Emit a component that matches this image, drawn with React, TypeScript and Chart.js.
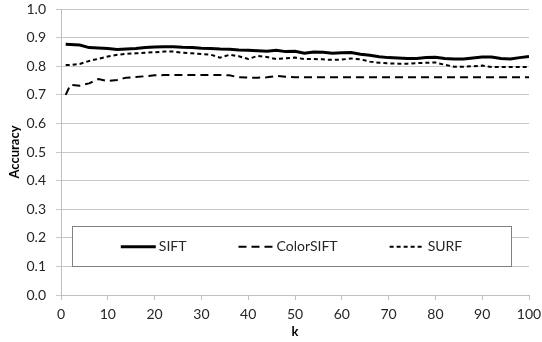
import React, { useEffect, useRef } from "react";
import { Chart, registerables } from "chart.js";

Chart.register(...registerables);

const kValues = [1, 2, 4, 6, 8, 10, 12, 14, 16, 18, 20, 22, 24, 26, 28, 30, 32, 34, 36, 38, 40, 42, 44, 46, 48, 50, 52, 54, 56, 58, 60, 62, 64, 66, 68, 70, 72, 74, 76, 78, 80, 82, 84, 86, 88, 90, 92, 94, 96, 98, 100];

const sift = [0.877, 0.876, 0.874, 0.865, 0.864, 0.862, 0.858, 0.86, 0.862, 0.865, 0.867, 0.868, 0.868, 0.866, 0.865, 0.863, 0.862, 0.86, 0.859, 0.857, 0.856, 0.854, 0.852, 0.856, 0.851, 0.852, 0.845, 0.85, 0.849, 0.845, 0.847, 0.848, 0.842, 0.838, 0.833, 0.83, 0.829, 0.827, 0.827, 0.83, 0.831, 0.827, 0.825, 0.825, 0.829, 0.832, 0.832, 0.827, 0.825, 0.83, 0.834];

const colorSift = [0.7, 0.735, 0.732, 0.74, 0.755, 0.748, 0.752, 0.76, 0.762, 0.765, 0.768, 0.769, 0.769, 0.769, 0.769, 0.769, 0.769, 0.769, 0.768, 0.761, 0.76, 0.76, 0.761, 0.766, 0.763, 0.761, 0.761, 0.761, 0.761, 0.761, 0.761, 0.761, 0.761, 0.761, 0.761, 0.761, 0.761, 0.761, 0.761, 0.761, 0.761, 0.761, 0.761, 0.761, 0.761, 0.761, 0.761, 0.761, 0.761, 0.761, 0.761];

const surf = [0.804, 0.804, 0.808, 0.818, 0.826, 0.834, 0.84, 0.843, 0.845, 0.847, 0.849, 0.851, 0.851, 0.847, 0.845, 0.843, 0.84, 0.83, 0.84, 0.835, 0.825, 0.836, 0.832, 0.825, 0.828, 0.83, 0.825, 0.825, 0.824, 0.822, 0.823, 0.827, 0.824, 0.816, 0.812, 0.81, 0.809, 0.809, 0.811, 0.812, 0.813, 0.805, 0.798, 0.798, 0.8, 0.802, 0.797, 0.797, 0.797, 0.797, 0.797];

const seriesNames = ["SIFT", "ColorSIFT", "SURF"];
const FONT = "Lato, 'Open Sans', sans-serif";
const TEXT = "#262626";

const boxLegend = {
  id: "boxLegend",
  afterDatasetsDraw(chart: any) {
    const { ctx, chartArea } = chart;
    const ys = chart.scales.y;
    const left = chartArea.left + 11;
    const right = chartArea.right - 18;
    const top = ys.getPixelForValue(0.241);
    const bottom = ys.getPixelForValue(0.1);
    ctx.save();
    ctx.fillStyle = "#ffffff";
    ctx.fillRect(left, top, right - left, bottom - top);
    ctx.strokeStyle = "#808080";
    ctx.lineWidth = 1;
    ctx.strokeRect(Math.round(left) + 0.5, Math.round(top) + 0.5, Math.round(right - left), Math.round(bottom - top));
    ctx.font = "14px " + FONT;
    ctx.textBaseline = "middle";
    const lineLen = 35;
    const gap = 3;
    const spacing = 52;
    const items = chart.data.datasets.map((d: any) => ({
      d,
      w: lineLen + gap + ctx.measureText(d.label).width,
    }));
    const total = items.reduce((s: number, it: any) => s + it.w, 0) + spacing * (items.length - 1);
    let x = (left + right) / 2 - total / 2;
    const cy = (top + bottom) / 2 + 0.5;
    items.forEach((it: any) => {
      ctx.strokeStyle = it.d.borderColor;
      ctx.lineWidth = it.d.borderWidth;
      ctx.setLineDash(it.d.borderDash || []);
      ctx.beginPath();
      ctx.moveTo(x, cy);
      ctx.lineTo(x + lineLen, cy);
      ctx.stroke();
      ctx.setLineDash([]);
      ctx.fillStyle = TEXT;
      ctx.textAlign = "left";
      ctx.fillText(it.d.label, x + lineLen + gap, cy);
      x += it.w + spacing;
    });
    ctx.restore();
  },
};

export default function App() {
  const ref = useRef<HTMLCanvasElement>(null);
  useEffect(() => {
    if (!ref.current) return;
    const mk = (arr: number[]) => kValues.map((k, i) => ({ x: k, y: arr[i] }));
    const chart = new Chart(ref.current, {
      type: "line",
      data: {
        datasets: [
          { label: seriesNames[0], data: mk(sift), borderColor: "#000000", borderWidth: 3, pointRadius: 0, tension: 0, fill: false },
          { label: seriesNames[1], data: mk(colorSift), borderColor: "#000000", borderWidth: 2, borderDash: [8, 5], pointRadius: 0, tension: 0, fill: false },
          { label: seriesNames[2], data: mk(surf), borderColor: "#000000", borderWidth: 2, borderDash: [4, 3], pointRadius: 0, tension: 0, fill: false },
        ],
      },
      options: {
        responsive: false,
        animation: false,
        layout: { padding: { left: 0, top: 9, right: 13, bottom: 0 } },
        plugins: { legend: { display: false }, tooltip: { enabled: false } },
        scales: {
          x: {
            type: "linear",
            min: 0,
            max: 100,
            ticks: { stepSize: 10, color: TEXT, font: { family: FONT, size: 14 }, padding: 6, maxRotation: 0 },
            grid: { drawOnChartArea: false, drawTicks: true, tickLength: 5, color: "#bfbfbf" },
            border: { color: "#bfbfbf" },
            title: { display: true, text: "k", color: "#000", font: { family: FONT, size: 13, weight: "bold" }, padding: { top: 0, bottom: 2 } },
            afterFit: (s: any) => { s.height = 47; s.paddingRight = 0; s.paddingLeft = 0; },
          },
          y: {
            min: 0,
            max: 1,
            ticks: { stepSize: 0.1, color: TEXT, font: { family: FONT, size: 14 }, padding: 10, callback: (v: any) => Number(v).toFixed(1) },
            grid: { color: "#c8c8c8", drawTicks: true, tickLength: 5 },
            border: { color: "#bfbfbf" },
            title: { display: true, text: "Accuracy", color: "#000", font: { family: FONT, size: 13, weight: "bold" }, padding: { top: 7, bottom: 0 } },
            afterFit: (s: any) => { s.width = 61; s.paddingTop = 0; s.paddingBottom = 0; },
          },
        },
      },
      plugins: [boxLegend],
    } as any);
    return () => chart.destroy();
  }, []);
  return (
    <div style={{ position: "fixed", left: 0, top: 0, width: 542, height: 342, background: "#fff" }}>
      <canvas ref={ref} width={542} height={342} />
    </div>
  );
}
